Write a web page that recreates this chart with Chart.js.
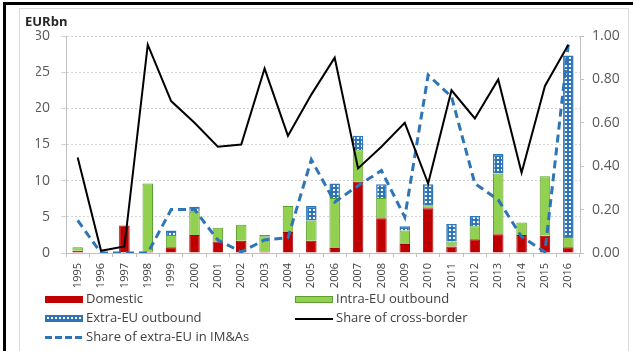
<!DOCTYPE html>
<html>
<head>
<meta charset="utf-8">
<script src="https://cdn.jsdelivr.net/npm/chart.js@4"></script>
<style>
  body { margin: 0; background: #fff; font-family: "Open Sans", sans-serif; }
  #wrap { position: relative; width: 633px; height: 351px; overflow: hidden; }
  #myChart { position: absolute; left: 0; top: 0; }
  .frame-top { position: absolute; left: 3px; top: 2px; width: 630px; height: 3px; background: #000; }
  .frame-left { position: absolute; left: 3px; top: 2px; width: 3px; height: 349px; background: #000; }
  .box { position: absolute; left: 19px; top: 8px; width: 608px; height: 360px; border: 1px solid #d9d9d9; }
  #unit { position: absolute; left: 25px; top: 12px; font-weight: bold; font-size: 13px; color: #262626; }
  .item { position: absolute; font-size: 13px; color: #404040; line-height: 16px; white-space: nowrap; }
  .sw { display: inline-block; width: 38px; margin-right: 3px; vertical-align: middle; box-sizing: border-box; }
</style>
</head>
<body>
<div id="wrap">
  <div class="box"></div>
  <div class="frame-top"></div>
  <div class="frame-left"></div>
  <canvas id="myChart" width="633" height="351"></canvas>
  <div id="unit">EURbn</div>
  <div class="item" style="left:45px; top:290px;"><span class="sw" style="height:7px; background:#c00000;"></span>Domestic</div>
  <div class="item" style="left:295px; top:290px;"><span class="sw" style="height:7px; background:#92d050; border:1px solid #5a9e32;"></span>Intra-EU outbound</div>
  <div class="item" style="left:45px; top:309px;"><span class="sw" style="height:7px; border:1px solid #2e75b6; background-color:#2e75b6; background-image:radial-gradient(circle, #fff 1px, transparent 1.5px); background-size:4px 4px;"></span>Extra-EU outbound</div>
  <div class="item" style="left:295px; top:309px;"><span class="sw" style="height:2px; background:#000;"></span>Share of cross-border</div>
  <div class="item" style="left:45px; top:328px;"><span class="sw" style="height:3px; background:repeating-linear-gradient(90deg, #2e75b6 0 7px, transparent 7px 10px);"></span>Share of extra-EU in IM&amp;As</div>
</div>
<script>
// Data
const years = ["1995", "1996", "1997", "1998", "1999", "2000", "2001", "2002", "2003", "2004", "2005",
               "2006", "2007", "2008", "2009", "2010", "2011", "2012", "2013", "2014", "2015", "2016"];
const domestic = [0.3, 0, 3.8, 0.2, 0.8, 2.5, 1.6, 1.7, 0.2, 2.9, 1.7, 0.7, 9.9, 4.8, 1.25, 6.2, 0.9, 1.9, 2.6, 2.5, 2.4, 0.8];
const intraEU = [0.5, 0, 0, 9.4, 1.7, 3.2, 1.9, 2.2, 2.1, 3.6, 2.8, 6.9, 4.3, 2.8, 1.85, 0.4, 0.7, 1.8, 8.4, 1.7, 8.2, 1.4];
const extraEU = [0, 0, 0, 0, 0.6, 0.7, 0, 0, 0.2, 0, 2.0, 2.0, 2.0, 1.9, 0.6, 2.9, 2.4, 1.4, 2.7, 0, 0, 25.1];
const shareCrossBorder = [0.44, 0.01, 0.03, 0.96, 0.70, 0.60, 0.49, 0.50, 0.85, 0.54, 0.73, 0.90, 0.39, 0.49, 0.60, 0.32, 0.75, 0.62, 0.80, 0.37, 0.77, 0.96];
const shareExtraEU = [0.15, 0.0, 0.0, 0.0, 0.20, 0.20, 0.06, 0.005, 0.06, 0.07, 0.43, 0.235, 0.31, 0.38, 0.165, 0.82, 0.72, 0.32, 0.245, 0.075, 0.005, 0.96];
const leftTicks = [0, 5, 10, 15, 20, 25, 30];
const rightTicks = [0, 0.2, 0.4, 0.6, 0.8, 1.0];

// dotted blue fill like the excel pattern
const tile = document.createElement("canvas");
tile.width = 4; tile.height = 4;
const tctx = tile.getContext("2d");
tctx.fillStyle = "#2e75b6";
tctx.fillRect(0, 0, 4, 4);
tctx.fillStyle = "#ffffff";
tctx.fillRect(1, 1, 2, 2);
const dots = tctx.createPattern(tile, "repeat");

const font = { family: "'Open Sans', sans-serif" };

const data = {
  labels: years,
  datasets: [
    { type: "line", label: "Share of cross-border", data: shareCrossBorder, yAxisID: "y1",
      borderColor: "#000000", borderWidth: 2, pointRadius: 0, tension: 0, order: 0 },
    { type: "line", label: "Share of extra-EU in IM&As", data: shareExtraEU, yAxisID: "y1",
      borderColor: "#2e75b6", borderWidth: 3, borderDash: [8, 5], pointRadius: 0, tension: 0, order: 0 },
    { label: "Domestic", data: domestic, backgroundColor: "#c00000", borderColor: "#a80000",
      borderWidth: 1, stack: "s", order: 1 },
    { label: "Intra-EU outbound", data: intraEU, backgroundColor: "#92d050", borderColor: "#5a9e32",
      borderWidth: 1, stack: "s", order: 1 },
    { label: "Extra-EU outbound", data: extraEU, backgroundColor: dots, borderColor: "#2e75b6",
      borderWidth: 1.5, stack: "s", order: 1 }
  ]
};

const config = {
  type: "bar",
  data: data,
  options: {
    responsive: false,
    animation: false,
    layout: { padding: { left: 36, right: 8, top: 36, bottom: 58 } },
    plugins: { legend: { display: false }, tooltip: { enabled: false } },
    datasets: { bar: { barPercentage: 0.45, categoryPercentage: 1.0 } },
    scales: {
      x: {
        stacked: true,
        grid: { display: true, drawOnChartArea: false, tickLength: 4, color: "#bfbfbf" },
        border: { color: "#bfbfbf" },
        ticks: { minRotation: 90, maxRotation: 90, padding: 6, color: "#404040", font: { ...font, size: 11 } },
        afterFit: (s) => { s.height = 40; }
      },
      y: {
        stacked: true,
        min: 0, max: 30,
        afterBuildTicks: (s) => { s.ticks = leftTicks.map(v => ({ value: v })); },
        grid: { color: "#d4d4d4", tickLength: 5 },
        border: { color: "#bfbfbf", dash: [2, 2] },
        ticks: { padding: 11, color: "#595959", font: { ...font, size: 14 } },
        afterFit: (s) => { s.width = 30; }
      },
      y1: {
        position: "right",
        min: 0, max: 1,
        afterBuildTicks: (s) => { s.ticks = rightTicks.map(v => ({ value: v })); },
        grid: { drawOnChartArea: false, tickLength: 4, color: "#bfbfbf" },
        border: { color: "#bfbfbf" },
        ticks: { padding: 8, color: "#595959", font: { ...font, size: 14 },
                 callback: (v) => v.toFixed(2) },
        afterFit: (s) => { s.width = 45; }
      }
    }
  }
};

const ctx = document.getElementById("myChart").getContext("2d");
const myChart = new Chart(ctx, config);
</script>
</body>
</html>
